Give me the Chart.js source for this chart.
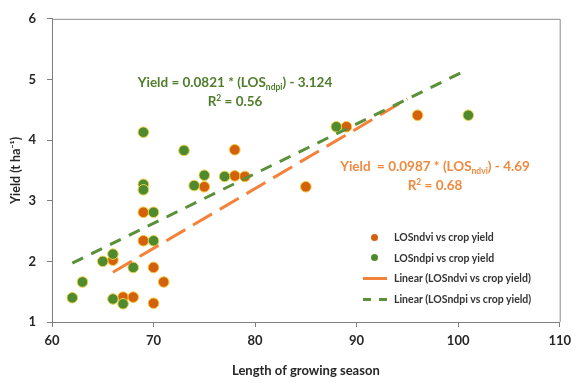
<!DOCTYPE html>
<html>
<head>
<meta charset="utf-8">
<script src="https://cdn.jsdelivr.net/npm/chart.js@4.4.1/dist/chart.umd.min.js"></script>
<style>
  html, body { margin: 0; padding: 0; background: #fff; }
  #wrap { position: relative; width: 577px; height: 383px; font-family: Lato, "Open Sans", sans-serif; }
  canvas { position: absolute; left: 0; top: 0; }
  .eq { position: absolute; text-align: center; font-weight: bold; font-size: 13.5px; line-height: 19px; white-space: nowrap; }
  .eq sub { font-size: 8.5px; line-height: 0; vertical-align: -3px; }
  .eq sup { font-size: 8.5px; line-height: 0; vertical-align: 5px; }
  #eqNdpi { left: 100px; top: 73px; width: 270px; color: #4f7d2c; }
  #eqNdvi { left: 330px; top: 157px; width: 210px; color: #f08a3e; }
  #legend { position: absolute; left: 360px; top: 227px; font-size: 10.5px; font-weight: bold; color: #333; }
  #legend .row { position: relative; height: 20.7px; line-height: 20.7px; padding-left: 34px; white-space: nowrap; }
  #legend .mk { position: absolute; left: 3px; top: 10px; }
  .dot { width: 7px; height: 7px; border-radius: 50%; margin-left: 8px; margin-top: -3.5px; }
  .ln { width: 24px; height: 3px; margin-top: -1.5px; }
</style>
</head>
<body>
<div id="wrap">
  <canvas id="c" width="577" height="383"></canvas>
  <div class="eq" id="eqNdpi">Yield = 0.0821 * (LOS<sub>ndpi</sub>) - 3.124<br>R<sup>2</sup> = 0.56</div>
  <div class="eq" id="eqNdvi">Yield&nbsp; = 0.0987 * (LOS<sub>ndvi</sub>) - 4.69<br>R<sup>2</sup> = 0.68</div>
  <div id="legend">
    <div class="row"><span class="mk dot" style="background:#d2600c"></span>LOSndvi vs crop yield</div>
    <div class="row"><span class="mk dot" style="background:#4e8b2e"></span>LOSndpi vs crop yield</div>
    <div class="row"><span class="mk ln" style="background:#f4823a"></span>Linear (LOSndvi vs crop yield)</div>
    <div class="row"><span class="mk ln" style="background:linear-gradient(90deg,#5a9138 0 8px,transparent 8px 16px,#5a9138 16px 24px)"></span>Linear (LOSndpi vs crop yield)</div>
  </div>
</div>
<script>
// length of growing season (days) vs yield (t/ha)
const losNdvi = [66, 67, 68, 69, 69, 70, 70, 71, 75, 78, 78, 79, 85, 89, 96];
const yieldNdvi = [2.02, 1.41, 1.41, 2.81, 2.34, 1.90, 1.31, 1.66, 3.23, 3.84, 3.41, 3.40, 3.23, 4.22, 4.41];

const losNdpi = [62, 63, 65, 66, 66, 67, 68, 69, 69, 69, 70, 70, 73, 74, 75, 77, 88, 101];
const yieldNdpi = [1.40, 1.66, 2.00, 2.12, 1.38, 1.30, 1.90, 4.13, 3.27, 3.18, 2.81, 2.34, 3.83, 3.25, 3.42, 3.40, 4.22, 4.41];

// trendline end points
const trendNdviX = [66, 95];
const trendNdviY = [1.82, 4.68];
const trendNdpiX = [62, 101];
const trendNdpiY = [1.97, 5.17];

const xTicks = [60, 70, 80, 90, 100, 110];
const yTicks = [1, 2, 3, 4, 5, 6];

const pts = (xs, ys) => xs.map((x, i) => ({ x, y: ys[i] }));
const tickFont = { family: "Lato", weight: "bold", size: 13 };

const frame = {
  id: "frame",
  afterDatasetsDraw(chart) {
    const a = chart.chartArea, ctx = chart.ctx;
    ctx.save();
    ctx.strokeStyle = "#8c8c8c";
    ctx.lineWidth = 1;
    ctx.beginPath();
    ctx.moveTo(a.left, a.top + 0.5);
    ctx.lineTo(a.right + 0.5, a.top + 0.5);
    ctx.lineTo(a.right + 0.5, a.bottom);
    ctx.stroke();
    ctx.restore();
  }
};

new Chart(document.getElementById("c"), {
  type: "scatter",
  data: {
    datasets: [
      { label: "Linear (LOSndpi vs crop yield)", type: "line", data: pts(trendNdpiX, trendNdpiY), borderColor: "#5a9138", borderWidth: 3, borderDash: [12, 9], pointRadius: 0, fill: false, order: 0 },
      { label: "Linear (LOSndvi vs crop yield)", type: "line", data: pts(trendNdviX, trendNdviY), borderColor: "#f4823a", borderWidth: 3, borderDash: [22, 9], pointRadius: 0, fill: false, order: 1 },
      { label: "LOSndpi vs crop yield", data: pts(losNdpi, yieldNdpi), backgroundColor: "#4e8b2e", borderColor: "#f0d04a", borderWidth: 1, pointRadius: 5.3, order: 2 },
      { label: "LOSndvi vs crop yield", data: pts(losNdvi, yieldNdvi), backgroundColor: "#d2600c", borderColor: "#f5c83c", borderWidth: 1, pointRadius: 5.3, order: 3 }
    ]
  },
  options: {
    responsive: false,
    animation: false,
    layout: { padding: { top: 13, right: 14, left: 0, bottom: 0 } },
    plugins: { legend: { display: false }, tooltip: { enabled: false } },
    scales: {
      x: {
        type: "linear", min: 60, max: 110,
        afterBuildTicks: s => { s.ticks = xTicks.map(v => ({ value: v })); },
        afterFit: s => { s.height = 61; },
        grid: { drawOnChartArea: false, tickLength: 5, color: "#7f7f7f" },
        border: { color: "#7f7f7f", width: 1 },
        ticks: { font: tickFont, color: "#262626", padding: 6 },
        title: { display: true, text: "Length of growing season", font: { family: "Lato", weight: "bold", size: 13 }, color: "#262626", padding: { top: 5 } }
      },
      y: {
        type: "linear", min: 1, max: 6,
        afterBuildTicks: s => { s.ticks = yTicks.map(v => ({ value: v })); },
        afterFit: s => { s.width = 52; },
        grid: { drawOnChartArea: false, tickLength: 5, color: "#7f7f7f" },
        border: { color: "#7f7f7f", width: 1 },
        ticks: { font: tickFont, color: "#262626", padding: 11 },
        title: { display: true, text: "Yield (t ha⁻¹)", font: { family: "Lato", weight: "bold", size: 12.5 }, color: "#262626", padding: { top: 8, bottom: 0 } }
      }
    }
  },
  plugins: [frame]
});
</script>
</body>
</html>
